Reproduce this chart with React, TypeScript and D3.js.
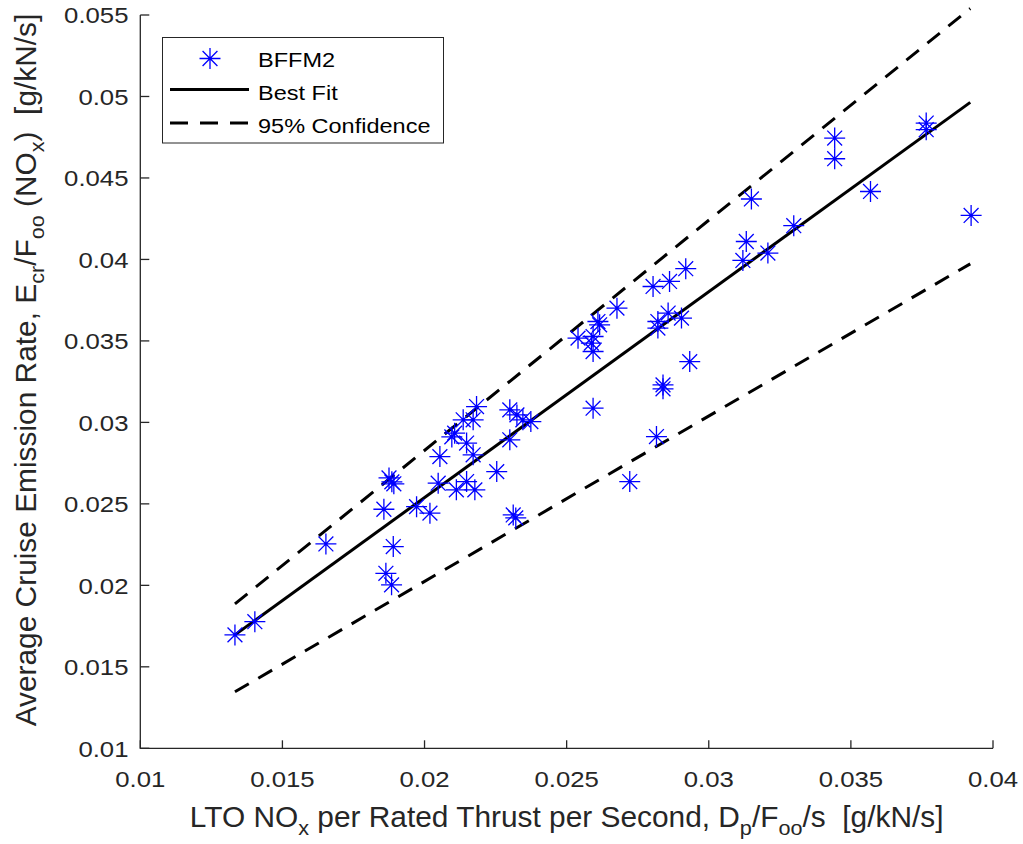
import React from "react";
import * as d3 from "d3";

// LTO NOx per rated thrust per second (x) vs. average cruise emission rate (y)
const bffm2X = [
  0.01333, 0.01403, 0.01653, 0.01857, 0.01864, 0.01884, 0.0189, 0.01875,
  0.01885, 0.01892, 0.01972, 0.02019, 0.02048, 0.02054, 0.02106, 0.02096,
  0.02112, 0.02136, 0.02148, 0.02148, 0.02171, 0.02183, 0.02171, 0.02177,
  0.02254, 0.023, 0.023, 0.02325, 0.02346, 0.02374, 0.02312, 0.02321,
  0.0254, 0.02593, 0.02587, 0.02593, 0.0261, 0.02616, 0.02677, 0.02593,
  0.02722, 0.02804, 0.02862, 0.02821, 0.02821, 0.02857, 0.02904, 0.02919,
  0.02933, 0.02839, 0.02839, 0.02816, 0.0312, 0.03132, 0.0315, 0.03208,
  0.03299, 0.03443, 0.03443, 0.03569, 0.03765, 0.03765, 0.03923,
];
const bffm2Y = [
  0.01696, 0.01777, 0.02254, 0.02467, 0.02074, 0.02003, 0.02238, 0.02659,
  0.02635, 0.02623, 0.02483, 0.02443, 0.02627, 0.0279, 0.02934, 0.02911,
  0.02586, 0.03016, 0.02873, 0.02637, 0.03016, 0.03097, 0.02801, 0.02586,
  0.02698, 0.02893, 0.03077, 0.03046, 0.03016, 0.03005, 0.02432, 0.02414,
  0.03517, 0.03527, 0.03487, 0.03435, 0.03619, 0.03599, 0.03701, 0.03087,
  0.02637, 0.03834, 0.03865, 0.03619, 0.03579, 0.03671, 0.0364, 0.03943,
  0.03373, 0.0323, 0.03206, 0.02913, 0.03994, 0.0411, 0.04371, 0.04039,
  0.04207, 0.04745, 0.04618, 0.04417, 0.04837, 0.04796, 0.0427,
];

// Regression line and 95% confidence bounds, evaluated at the data x-range ends
const lineX = [0.01333, 0.0392];
const fitY = [0.01696, 0.04964];
const upperY = [0.01886, 0.0554];
const lowerY = [0.01347, 0.03973];

const xTicks = [0.01, 0.015, 0.02, 0.025, 0.03, 0.035, 0.04];
const xTickLabels = ["0.01", "0.015", "0.02", "0.025", "0.03", "0.035", "0.04"];
const yTicks = [0.01, 0.015, 0.02, 0.025, 0.03, 0.035, 0.04, 0.045, 0.05, 0.055];
const yTickLabels = ["0.01", "0.015", "0.02", "0.025", "0.03", "0.035", "0.04", "0.045", "0.05", "0.055"];

const legendLabels = ["BFFM2", "Best Fit", "95% Confidence"];

const W = 1023;
const H = 844;
const FONT = "'Liberation Sans', Arial, Helvetica, sans-serif";
const AXIS = "#262626";
const BLUE = "#0000ff";
const SX = 1.12; // horizontal stretch of tick and legend lettering
const TX = 1.03; // stretch of axis-title lettering along the text direction

function asterisk(r: number) {
  const d = r * Math.SQRT1_2;
  return `M0,${-r}V${r}M${-r},0H${r}M${-d},${-d}L${d},${d}M${-d},${d}L${d},${-d}`;
}

export default function App() {
  const x = d3.scaleLinear().domain([0.01, 0.04]).range([140.3, 993]);
  const y = d3.scaleLinear().domain([0.01, 0.055]).range([748.3, 15]);
  const line = d3
    .line<[number, number]>()
    .x((d) => x(d[0]))
    .y((d) => y(d[1]));
  const pts = (ys: number[]) => lineX.map((v, i) => [v, ys[i]] as [number, number]);
  const star = asterisk(10.5);

  const [x0, x1] = x.range();
  const [y0, y1] = y.range();

  return (
    <svg
      width={W}
      height={H}
      viewBox={`0 0 ${W} ${H}`}
      style={{ position: "absolute", left: 0, top: 0, background: "#fff" }}
      fontFamily={FONT}
    >
      {/* fit and confidence lines */}
      <path d={line(pts(upperY)) || ""} fill="none" stroke="#000" strokeWidth={3} strokeDasharray="16 11" />
      <path d={line(pts(lowerY)) || ""} fill="none" stroke="#000" strokeWidth={3} strokeDasharray="16 11" />
      <path d={line(pts(fitY)) || ""} fill="none" stroke="#000" strokeWidth={3} />

      {/* data markers */}
      <g stroke={BLUE} strokeWidth={1.3} fill="none">
        {bffm2X.map((v, i) => (
          <path key={i} d={star} transform={`translate(${x(v)},${y(bffm2Y[i])})`} />
        ))}
      </g>

      {/* axes */}
      <g stroke={AXIS} strokeWidth={1.3} fill="none">
        <path d={`M${x0},${y1}V${y0}H${x1}`} />
        {xTicks.map((t) => (
          <path key={"xt" + t} d={`M${x(t)},${y0}V${y0 - 8}`} />
        ))}
        {yTicks.map((t) => (
          <path key={"yt" + t} d={`M${x0},${y(t)}H${x0 + 9}`} />
        ))}
      </g>
      <g fill={AXIS} fontSize={23}>
        {xTicks.map((t, i) => (
          <text key={"xl" + t} textAnchor="middle" transform={`translate(${x(t)},787) scale(${SX},1)`}>
            {xTickLabels[i]}
          </text>
        ))}
        {yTicks.map((t, i) => (
          <text key={"yl" + t} textAnchor="end" transform={`translate(128.5,${y(t) + 8.3}) scale(${SX},1)`}>
            {yTickLabels[i]}
          </text>
        ))}
      </g>

      {/* axis titles */}
      <text
        fill={AXIS}
        fontSize={29}
        textAnchor="middle"
        transform={`translate(${(x0 + x1) / 2},826.5) scale(${TX},1)`}
      >
        LTO NO
        <tspan fontSize={21} dy={8}>x</tspan>
        <tspan dy={-8}> per Rated Thrust per Second, D</tspan>
        <tspan fontSize={21} dy={8}>p</tspan>
        <tspan dy={-8}>/F</tspan>
        <tspan fontSize={21} dy={8}>oo</tspan>
        <tspan dy={-8} style={{ whiteSpace: "pre" }}>/s  [g/kN/s]</tspan>
      </text>
      <text
        fill={AXIS}
        fontSize={29}
        textAnchor="middle"
        transform={`translate(36,370) rotate(-90) scale(${TX},1)`}
      >
        Average Cruise Emission Rate, E
        <tspan fontSize={21} dy={8}>cr</tspan>
        <tspan dy={-8}>/F</tspan>
        <tspan fontSize={21} dy={8}>oo</tspan>
        <tspan dy={-8}> (NO</tspan>
        <tspan fontSize={21} dy={8}>x</tspan>
        <tspan dy={-8} style={{ whiteSpace: "pre" }}>)  [g/kN/s]</tspan>
      </text>

      {/* legend */}
      <g>
        <rect x={162.5} y={37.5} width={281} height={105.5} fill="#fff" stroke={AXIS} strokeWidth={1} />
        <path d={star} transform="translate(210,58.5)" stroke={BLUE} strokeWidth={1.3} fill="none" />
        <path d="M170,89.5H249" stroke="#000" strokeWidth={3} />
        <path d="M170,123H249" stroke="#000" strokeWidth={3} strokeDasharray="18 12" />
        {legendLabels.map((s, i) => (
          <text
            key={s}
            fontSize={21}
            fill="#000"
            transform={`translate(258,${66.5 + i * 33}) scale(${SX},1)`}
          >
            {s}
          </text>
        ))}
      </g>
    </svg>
  );
}
